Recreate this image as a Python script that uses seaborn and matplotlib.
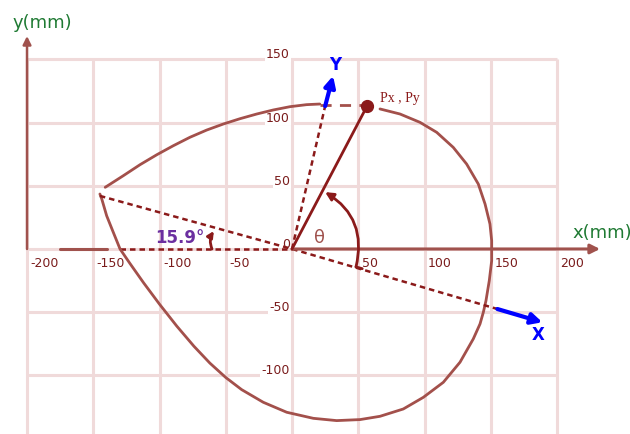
import matplotlib.pyplot as plt
import numpy as np
import pandas as pd
import seaborn as sns
from matplotlib.patches import FancyArrowPatch

# cam profile (mm), outer branch runs clockwise from P to the corner
outer_x = [66.4, 81.5, 96.6, 109.2, 121.7, 131.8, 140.6, 145.7, 149.4, 150.7, 150.7, 148.9,
           146.4, 144.4, 141.9, 136.8, 126.8, 114.2, 99.1, 84, 66.4, 51.3, 33.7, 16.1, -4,
           -21.7, -38, -50, -62, -74, -87, -100, -112, -122.5, -129.8, -134.9, -139.9,
           -143.6, -145]
outer_y = [110.8, 106.8, 100.2, 92.3, 80.4, 67.2, 51.4, 35.6, 19.8, 6.6, -9.3, -25,
           -40.9, -50.1, -59.3, -71.2, -89.6, -105.5, -117.4, -126.6, -132.4, -135, -135.8,
           -134, -129.2, -121.3, -111.3, -101.7, -90.3, -77, -61, -43.7, -26.8, -11.2, 0,
           13.2, 26.3, 39.6, 43.5]
top_x = [-141, -127.3, -114.7, -102, -89.6, -77, -64.4, -51.8, -39.2, -26.6, -14.1, -1.5,
         11, 21]
top_y = [48.8, 58, 66.7, 74.6, 81.7, 88.4, 94.1, 98.9, 103.1, 106.8, 110, 112.6, 114.2,
         114.7]

point_p = (56.6, 113)
corner = (-145, 42)
x_dir_end = (155, -47.5)
x_arrow_tip = (189, -58)
y_dir_end = (25, 113)
y_arrow_tip = (31, 137)

grid_x = [-200, -150, -100, -50, 0, 50, 100, 150, 200]
grid_y = [-150, -100, -50, 0, 50, 100, 150]
xtick_vals = [-200, -150, -100, -50, 50, 100, 150, 200]
ytick_vals = [150, 100, 50, -50, -100, -150]

CURVE = "#a3504b"
MAROON = "#8b1a1a"
AXIS = "#a0524d"
TICK = "#7a1c1c"
GRID = "#f0dada"
GREEN = "#1f7a33"
PURPLE = "#6b2fa0"
BLUE = "#0000ff"


def arrow(ax, start, end, color, lw, scale, rad=0.0, style="-|>", z=5):
    ax.add_patch(FancyArrowPatch(start, end, arrowstyle=style, mutation_scale=scale,
                                 color=color, lw=lw, shrinkA=0, shrinkB=0,
                                 connectionstyle=f"arc3,rad={rad}", zorder=z))


def main() -> None:
    sns.set_style("white")
    plt.rcParams["font.family"] = ["DejaVu Sans"]

    fig = plt.figure(figsize=(6.3, 4.35), dpi=100)
    ax = fig.add_axes([0, 0, 1, 1])
    ax.set_xlim(-220.4, 255.1)
    ax.set_ylim(-146.4, 197.8)
    ax.axis("off")

    # grid
    ax.vlines(grid_x, -160, 150, color=GRID, lw=2.2, zorder=0)
    ax.hlines(grid_y, -200, 200, color=GRID, lw=2.2, zorder=0)

    # tick labels
    for v in xtick_vals:
        ax.annotate(str(v), (v, 0), xytext=(2.5, -10), textcoords="offset points",
                    ha="left", va="center", fontsize=9, color=TICK, zorder=2,
                    bbox=dict(boxstyle="square,pad=0.1", fc="white", ec="none"))
    for v in ytick_vals:
        ax.annotate(str(v), (0, v), xytext=(-1.5, 4), textcoords="offset points",
                    ha="right", va="center", fontsize=9, color=TICK, zorder=2,
                    bbox=dict(boxstyle="square,pad=0.1", fc="white", ec="none"))
    ax.annotate("0", (0, 0), xytext=(-1.5, 4), textcoords="offset points",
                ha="right", va="center", fontsize=9, color=TICK, zorder=2)

    # axes arrows
    arrow(ax, (0, 0), (232.5, 0), AXIS, 2.2, 14)
    arrow(ax, (-200, 0), (-200, 168.5), AXIS, 1.8, 12)
    ax.plot([-175, -140], [0, 0], color=AXIS, lw=2.2, zorder=3)
    ax.plot([-130, 0], [0, 0], color=MAROON, lw=1.8, ls=(0, (2.2, 1.6)), zorder=3)

    # cam profile
    df = pd.DataFrame({
        "x": outer_x + top_x,
        "y": outer_y + top_y,
        "branch": ["outer"] * len(outer_x) + ["top"] * len(top_x),
    })
    sns.lineplot(data=df, x="x", y="y", units="branch", estimator=None, sort=False,
                 color=CURVE, lw=2, ax=ax, zorder=4)
    for line in ax.lines:
        line.set_solid_joinstyle("round")
    ax.plot([top_x[-1], point_p[0]], [113.6, 113.6], color=CURVE, lw=2,
            ls=(0, (4, 3)), zorder=4)

    # rotated frame
    ax.plot([corner[0], 0, x_dir_end[0]], [corner[1], 0, x_dir_end[1]],
            color=MAROON, lw=1.8, ls=(0, (2.2, 1.6)), zorder=4)
    ax.plot([0, y_dir_end[0]], [0, y_dir_end[1]],
            color=MAROON, lw=1.8, ls=(0, (2.2, 1.6)), zorder=4)
    arrow(ax, x_dir_end, x_arrow_tip, BLUE, 3, 16)
    arrow(ax, y_dir_end, y_arrow_tip, BLUE, 3, 16)
    ax.text(185.7, -67, "X", color=BLUE, fontsize=12, fontweight="bold",
            ha="center", va="center", zorder=6)
    ax.text(32.5, 146.4, "Y", color=BLUE, fontsize=12, fontweight="bold",
            ha="center", va="center", zorder=6)

    # radius to P and the point
    ax.plot([0, point_p[0]], [0, point_p[1]], color=MAROON, lw=2, zorder=5)
    ax.plot(*point_p, "o", color=MAROON, ms=8.5, zorder=6)
    ax.text(66.4, 120, "Px , Py", family="Liberation Serif", fontsize=10,
            color=MAROON, ha="left", va="center", zorder=6)

    # angle marks
    arrow(ax, (48.3, -14.2), (25, 45), MAROON, 2, 12, rad=0.36)
    ax.plot([48.3, 53], [-14.2, -15.6], color=MAROON, lw=2, zorder=5)
    ax.text(21, 9.5, "θ", color=AXIS, fontsize=13, ha="center", va="center", zorder=6)
    arrow(ax, (-60.4, 0), (-59, 14.2), MAROON, 2, 9, rad=-0.25)
    ax.text(-85, 9.5, "15.9°", color=PURPLE, fontsize=12, fontweight="bold",
            ha="center", va="center", zorder=6)

    # axis titles
    ax.text(-210.6, 179.6, "y(mm)", color=GREEN, fontsize=13, ha="left", va="center")
    ax.text(212, 13.4, "x(mm)", color=GREEN, fontsize=13, ha="left", va="center")

    fig.savefig("out.png", dpi=100)
    plt.close(fig)


if __name__ == "__main__":
    main()
